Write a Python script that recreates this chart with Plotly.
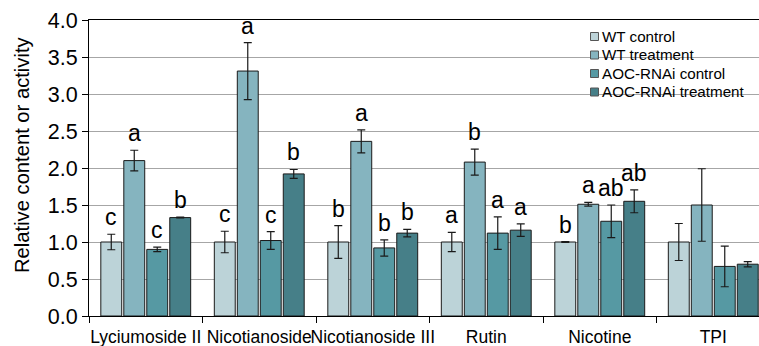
import plotly.graph_objects as go

categories = ["Lyciumoside II", "Nicotianoside", "Nicotianoside III", "Rutin", "Nicotine", "TPI"]
series_names = ["WT control", "WT treatment", "AOC-RNAi control", "AOC-RNAi treatment"]

wt_control = [1.00, 1.00, 1.00, 1.00, 1.00, 1.00]
wt_control_err = [0.105, 0.145, 0.22, 0.13, 0.005, 0.25]
wt_treatment = [2.10, 3.31, 2.36, 2.08, 1.51, 1.50]
wt_treatment_err = [0.14, 0.385, 0.155, 0.175, 0.025, 0.49]
aoc_control = [0.90, 1.02, 0.92, 1.12, 1.28, 0.67]
aoc_control_err = [0.03, 0.12, 0.11, 0.22, 0.22, 0.275]
aoc_treatment = [1.33, 1.92, 1.12, 1.16, 1.55, 0.70]
aoc_treatment_err = [0.005, 0.06, 0.05, 0.085, 0.155, 0.035]

letters_wt_control = ["c", "c", "b", "a", "b", ""]
letters_wt_treatment = ["a", "a", "a", "b", "a", ""]
letters_aoc_control = ["c", "c", "b", "a", "ab", ""]
letters_aoc_treatment = ["b", "b", "b", "a", "ab", ""]

y_ticks = [0.0, 0.5, 1.0, 1.5, 2.0, 2.5, 3.0, 3.5, 4.0]

values = [wt_control, wt_treatment, aoc_control, aoc_treatment]
errors = [wt_control_err, wt_treatment_err, aoc_control_err, aoc_treatment_err]
letters = [letters_wt_control, letters_wt_treatment, letters_aoc_control, letters_aoc_treatment]
colors = ["#BCD3D8", "#85B4BF", "#5699A3", "#467F88"]

FONT = "Liberation Sans, Arial, sans-serif"
bargap = 0.19
W, H = 759, 346
ML, MR, MT, MB = 89, 0, 20, 30
PW, PH = W - ML - MR, H - MT - MB


def px_x(p):
    return (p - ML) / PW


def px_y(p):
    return (H - MB - p) / PH


fig = go.Figure()
for name, vals, errs, col in zip(series_names, values, errors, colors):
    fig.add_trace(go.Bar(
        name=name, x=categories, y=vals, showlegend=False,
        marker=dict(color=col, line=dict(color="#1a1a1a", width=1)),
        error_y=dict(type="data", array=errs, visible=True, color="#1a1a1a", thickness=1.2, width=4),
    ))

# significance letters
n = len(series_names)
slot = (1 - bargap) / n
annotations = []
for i in range(n):
    off = -(1 - bargap) / 2 + slot * (i + 0.5)
    for j, cat in enumerate(categories):
        t = letters[i][j]
        if not t:
            continue
        annotations.append(dict(
            x=j + off, y=values[i][j] + errors[i][j], xref="x", yref="y",
            text=t, showarrow=False, yanchor="bottom", yshift=2,
            font=dict(family=FONT, size=23, color="#000000"),
        ))

# y axis title
annotations.append(dict(
    x=px_x(22), xref="paper", xanchor="center", y=px_y(155), yref="paper", yanchor="middle",
    text="Relative content or activity", showarrow=False, textangle=-90,
    font=dict(family=FONT, size=20.2, color="#000000"),
))

# legend (drawn as squares + text)
shapes = []
leg_y0, leg_dy = 36.5, 18.5
for i, (name, col) in enumerate(zip(series_names, colors)):
    cy = leg_y0 + i * leg_dy
    shapes.append(dict(
        type="rect", xref="paper", yref="paper",
        x0=px_x(590.5), x1=px_x(598.5), y0=px_y(cy - 4), y1=px_y(cy + 4),
        fillcolor=col, line=dict(color="#555555", width=1),
    ))
    annotations.append(dict(
        x=px_x(600), xref="paper", xanchor="left", y=px_y(cy), yref="paper", yanchor="middle",
        text=name, showarrow=False,
        font=dict(family=FONT, size=15.2, color="#000000"),
    ))

fig.update_layout(
    width=W, height=H,
    margin=dict(l=ML, r=MR, t=MT, b=MB, autoexpand=False),
    paper_bgcolor="white", plot_bgcolor="white",
    barmode="group", bargap=bargap, bargroupgap=0.09,
    font=dict(family=FONT, color="#000000"),
    showlegend=False,
    annotations=annotations,
    shapes=shapes,
)

fig.update_xaxes(
    range=[-0.5, 5.403], tickson="boundaries", ticks="outside", ticklen=6,
    tickcolor="#000000", showline=True, linecolor="#000000", linewidth=1, mirror=True,
    showgrid=False, tickangle=0, automargin=False, ticklabelstandoff=5,
    tickfont=dict(family=FONT, size=17.5, color="#000000"),
)
fig.update_yaxes(
    range=[0, 4], tickvals=y_ticks, tickformat=".1f", ticks="outside", ticklen=6,
    tickcolor="#000000", showline=True, linecolor="#000000", linewidth=1,
    showgrid=True, gridcolor="#A6A6A6", gridwidth=1, zeroline=False, automargin=False,
    tickfont=dict(family=FONT, size=21.5, color="#000000"),
)

fig.write_html(
    "out.html",
    config={"displayModeBar": False},
    post_script="document.body.style.margin='0';document.body.style.overflow='hidden';",
)
